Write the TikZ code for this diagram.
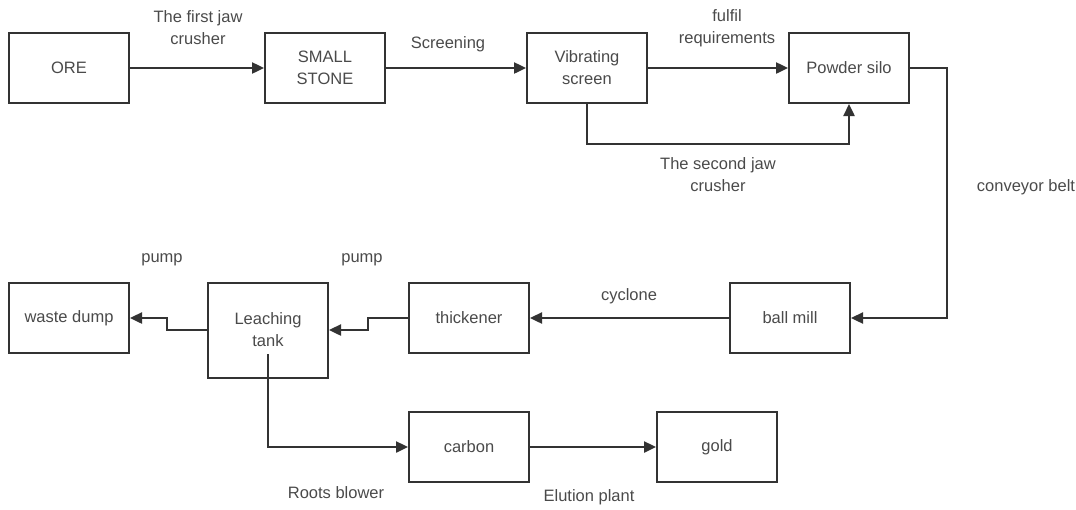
\documentclass[tikz,border=0pt]{standalone}
\usepackage{fontspec}
\setmainfont{Liberation Sans}
\usepackage{tikz}
\usetikzlibrary{arrows.meta}
\definecolor{linegray}{HTML}{333333}
\definecolor{textgray}{HTML}{4A4A4A}

\begin{document}
\begin{tikzpicture}[x=1pt,y=-1pt]
      \tikzstyle{box}=[draw=linegray,line width=2pt,fill=white,minimum width=120pt,
			      minimum height=70pt,inner sep=2pt,align=center,text=textgray]
      \tikzstyle{flow}=[draw=linegray,line width=2.4pt,-{Triangle[length=12pt,width=11pt]}]
      \tikzstyle{lbl}=[align=center,text=textgray]
      \useasboundingbox (0,0) rectangle (1076,509);
      \fontsize{16.5}{22}\selectfont
      % top row
      \node[box] (ore)   at (69,68)  {ORE};
      \node[box] (stone) at (325,68) {SMALL\\STONE};
      \node[box] (vib)   at (587,68) {Vibrating\\screen};
      \node[box] (silo)  at (849,68) {Powder silo};
      % bottom rows
      \node[box] (ball)  at (790,318) {ball mill};
      \node[box] (thick) at (469,318) {thickener};
      \node[box,minimum height=95pt] (leach) at (268,330) {Leaching\\tank};
      \node[box] (waste) at (69,318)  {waste dump};
      \node[box] (carbon) at (469,447) {carbon};
      \node[box] (gold)  at (717,447) {gold};
      \coordinate (leachout) at (268,354);
      % connectors
      \draw[flow] (ore) -- (stone);
      \draw[flow] (stone) -- (vib);
      \draw[flow] (vib) -- (silo);
      \draw[flow] (vib.south) -- ++(0,40) -| (silo.south);
      \draw[flow] (silo.east) -- ++(37,0) |- (ball.east);
      \draw[flow] (ball) -- (thick);
      \draw[flow] (thick.west) -- ++(-40,0) |- (leach.east);
      \draw[flow] (leach.west) -- ++(-40,0) |- (waste.east);
      \draw[flow] (leachout) |- (carbon.west);
      \draw[flow] (carbon) -- (gold);
      % labels
      \node[lbl] (jaw1)     at (198,28)  {The first jaw\\crusher};
      \node[lbl] (screen)   at (448,44)  {Screening};
      \node[lbl] (fulfil)   at (727,28)  {fulfil\\requirements};
      \node[lbl] (jaw2)     at (718,175) {The second jaw\\crusher};
      \node[lbl] (conveyor) at (1026,187) {conveyor belt};
      \node[lbl] (cyclone)  at (629,296) {cyclone};
      \node[lbl] (pump1)    at (362,260) {pump};
      \node[lbl] (pump2)    at (162,260) {pump};
      \node[lbl] (roots)    at (336,493) {Roots blower};
      \node[lbl] (elution)  at (589,497) {Elution plant};
  \end{tikzpicture}
\end{document}
